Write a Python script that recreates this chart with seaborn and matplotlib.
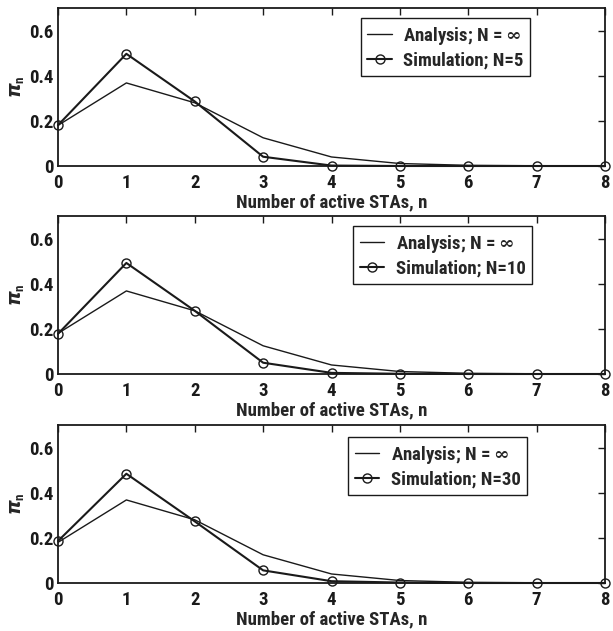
import numpy as np
import matplotlib
matplotlib.use("Agg")
import matplotlib.pyplot as plt
import seaborn as sns
from matplotlib.ticker import FuncFormatter

sns.set_theme(style="white")
plt.rcParams['font.family'] = ['Roboto Condensed', 'DejaVu Sans']
plt.rcParams['font.weight'] = 'bold'
plt.rcParams['mathtext.fontset'] = 'custom'
plt.rcParams['mathtext.rm'] = 'DejaVu Serif'
plt.rcParams['mathtext.bf'] = 'Roboto Condensed:bold'

n_values = [0, 1, 2, 3, 4, 5, 6, 7, 8]
analysis = [0.180, 0.368, 0.280, 0.125, 0.040, 0.011, 0.003, 0.001, 0.0]
sim_n5 = [0.181, 0.497, 0.286, 0.041, 0.002, 0.0, 0.0, 0.0, 0.0]
sim_n10 = [0.178, 0.492, 0.280, 0.050, 0.005, 0.001, 0.0, 0.0, 0.0]
sim_n30 = [0.186, 0.484, 0.273, 0.056, 0.008, 0.002, 0.0, 0.0, 0.0]
sim_labels = ["Simulation; N=5", "Simulation; N=10", "Simulation; N=30"]
analysis_label = r"Analysis; N = $\mathrm{\infty}$"
x_ticks = [0, 1, 2, 3, 4, 5, 6, 7, 8]
y_ticks = [0, 0.2, 0.4, 0.6]

W, H = 613, 631
fig = plt.figure(figsize=(W / 100, H / 100), dpi=100)

# axes boxes in pixels: (left, top, right, bottom)
boxes = [(58, 8, 605, 166), (58, 216, 605, 374), (58, 425, 605, 583)]
legend_anchor = [(530, 18), (532, 226), (527, 437)]

fs = 13.5
for box, sim, lab, anc in zip(boxes, [sim_n5, sim_n10, sim_n30], sim_labels, legend_anchor):
    l, t, r, b = box
    ax = fig.add_axes([l / W, 1 - b / H, (r - l) / W, (b - t) / H])
    sns.lineplot(x=n_values, y=analysis, ax=ax, color='k', linewidth=1.0,
                 label=analysis_label)
    sns.lineplot(x=n_values, y=sim, ax=ax, color='k', linewidth=1.5,
                 marker='o', markersize=6.5, markerfacecolor='none',
                 markeredgecolor='k', markeredgewidth=1.0, clip_on=False,
                 label=lab)
    ax.set_xlim(0, 8)
    ax.set_ylim(0, 0.7)
    ax.set_xticks(x_ticks)
    ax.set_yticks(y_ticks)
    ax.yaxis.set_major_formatter(FuncFormatter(lambda v, p: "0" if v == 0 else f"{v:g}"))
    ax.tick_params(direction='in', length=5, width=1, top=True, right=True,
                   labelsize=fs, colors='k')
    ax.tick_params(axis='x', pad=6)
    ax.tick_params(axis='y', pad=3)
    for lbl in ax.get_xticklabels() + ax.get_yticklabels():
        lbl.set_fontweight('bold')
    for s in ax.spines.values():
        s.set_color('k')
        s.set_linewidth(1.3)
    ax.set_xlabel("Number of active STAs, n", fontsize=fs, fontweight='bold', labelpad=1)
    ax.set_ylabel(r"$\pi_\mathbf{n}$", fontsize=fs, labelpad=2)
    ax.grid(False)
    leg = ax.legend(loc='upper right',
                    bbox_to_anchor=((anc[0] - l) / (r - l), 1 - (anc[1] - t) / (b - t)),
                    fancybox=False, framealpha=1, edgecolor='k', fontsize=fs,
                    handlelength=1.3, borderpad=0.35, labelspacing=0.25,
                    handletextpad=0.6, borderaxespad=0)
    leg.get_frame().set_linewidth(1.0)
    for txt in leg.get_texts():
        txt.set_fontweight('bold')

fig.savefig("out.png", dpi=100)
